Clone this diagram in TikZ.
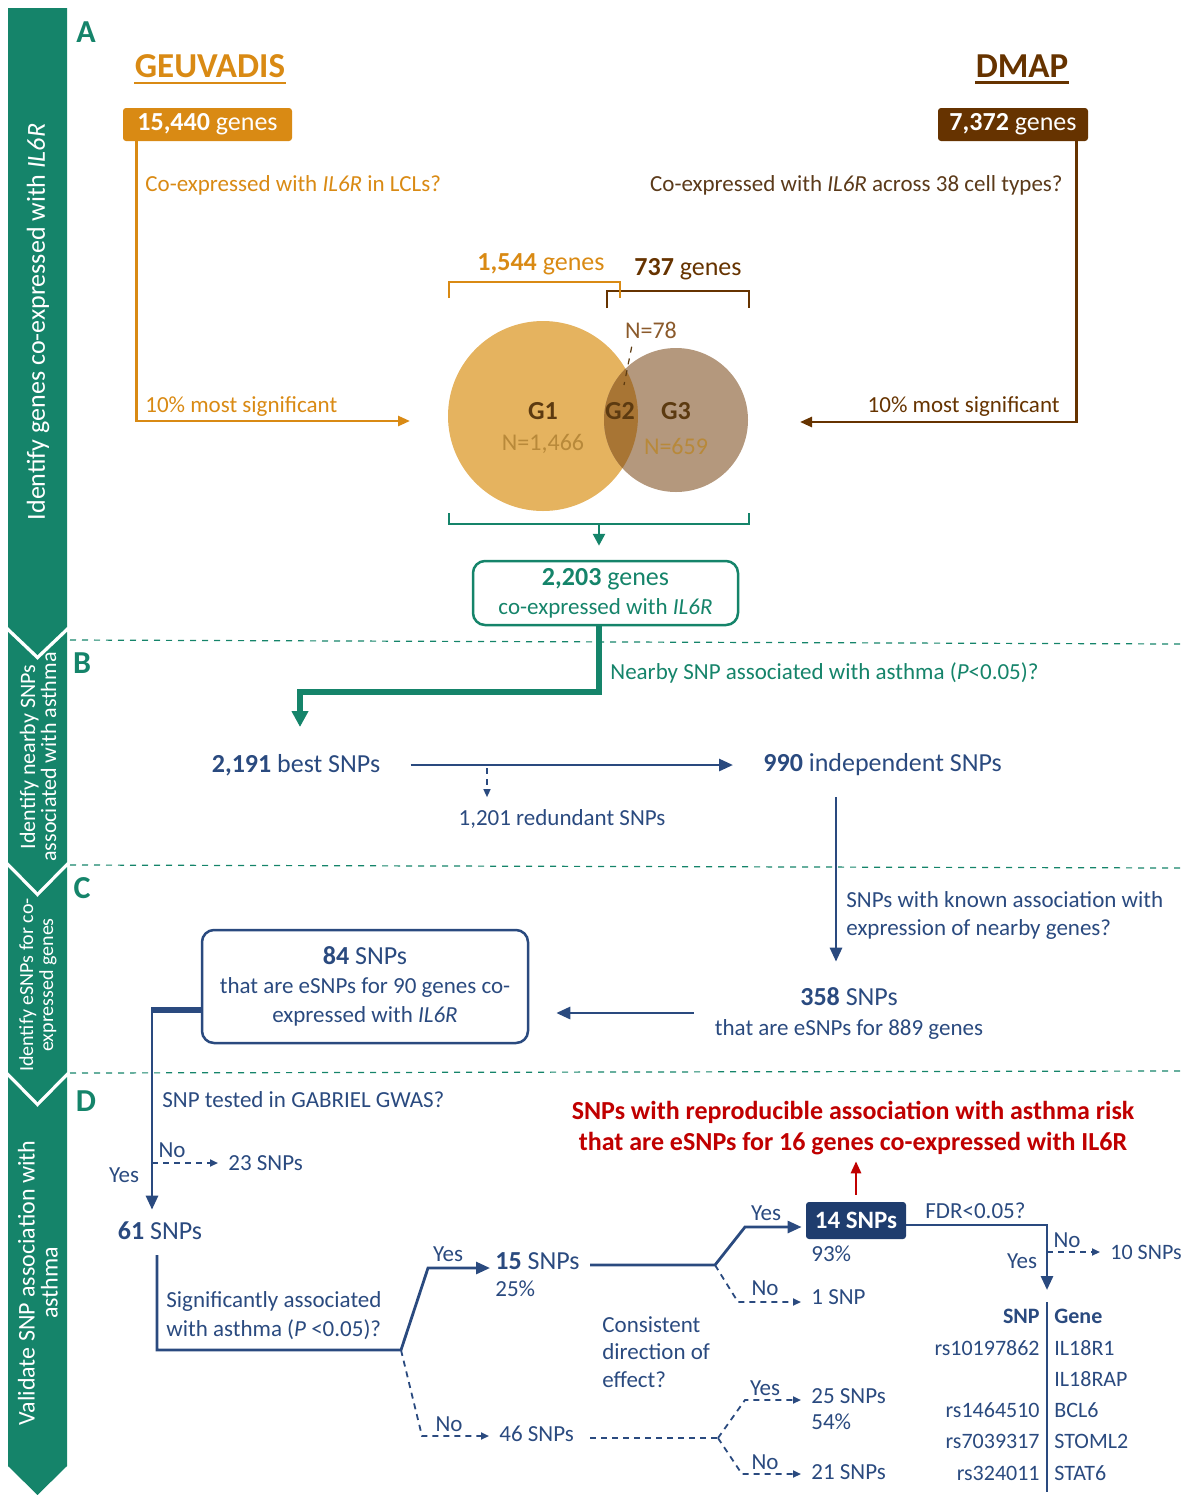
\documentclass[tikz,border=0pt]{standalone}
\usepackage{fontspec}
\setmainfont{Carlito}
\usetikzlibrary{arrows.meta,positioning}

\definecolor{barteal}{HTML}{15846A}
\definecolor{geuorange}{HTML}{D98A14}
\definecolor{dmapbrown}{HTML}{663300}
\definecolor{dmaptext}{HTML}{5B3A1A}
\definecolor{snpblue}{HTML}{2A4A7F}
\definecolor{boxblue}{HTML}{1F3D6E}
\definecolor{hitred}{HTML}{C00000}
\definecolor{gonecol}{HTML}{E5B35F}
\definecolor{gthreecol}{HTML}{B4987D}
\definecolor{gtwocol}{HTML}{A87534}
\definecolor{vennlab}{HTML}{5C3A10}
\definecolor{vennN}{HTML}{B8893A}
\definecolor{vennmid}{HTML}{8B5A2B}

\begin{document}
\begin{tikzpicture}[
  x=0.5pt, y=-0.5pt,
  every node/.style={inner sep=0pt},
  body/.style={font=\fontsize{11.5}{14.5}\selectfont},
  head/.style={font=\fontsize{13}{15}\selectfont},
  tab/.style={font=\fontsize{11}{13}\selectfont, text=snpblue, text height=8pt, text depth=2pt},
  panel/.style={font=\fontsize{16}{18}\selectfont\bfseries, text=barteal},
  bartext/.style={rotate=90, text=white, align=center},
  title/.style={font=\fontsize{17.5}{20}\selectfont\bfseries},
  genebox/.style={rounded corners=1.5pt, minimum height=16.5pt, text=white,
    font=\fontsize{13}{15}\selectfont},
  flowbox/.style={draw, rounded corners=6pt, line width=1.25pt, align=center},
  sep/.style={barteal, dashed, line width=0.6pt},
  orngline/.style={geuorange, line width=1.3pt, -{Triangle[length=6pt,width=5pt]}},
  brwnline/.style={dmapbrown, line width=1.3pt, -{Triangle[length=6pt,width=5pt]}},
  snpline/.style={snpblue, line width=1.4pt},
  snparrow/.style={snpline, -{Triangle[length=7pt,width=6pt]}},
  dashline/.style={snpblue, line width=0.9pt, dash pattern=on 3pt off 2.5pt},
  dasharrow/.style={dashline, -{Triangle[length=4pt,width=3.5pt]}},
  yn/.style={body, text=snpblue},
  venntxt/.style={font=\fontsize{12}{14}\selectfont},
  vennG/.style={font=\fontsize{13}{15}\selectfont\bfseries, text=vennlab},
]
\useasboundingbox (0,0) rectangle (1184,1495);

% ---- Left bar ----
\fill[barteal] (8,8) -- (67,8) -- (67,627) -- (37.5,655) -- (8,627) -- cycle;
\fill[barteal] (8,632) -- (37.5,660) -- (67,632) -- (67,862) -- (37.5,892) -- (8,862) -- cycle;
\fill[barteal] (8,867) -- (37.5,897) -- (67,867) -- (67,1072) -- (37.5,1102) -- (8,1072) -- cycle;
\fill[barteal] (8,1077) -- (37.5,1107) -- (67,1077) -- (67,1466) -- (37.5,1495) -- (8,1466) -- cycle;

\node[bartext, font=\fontsize{13}{15}\selectfont] (barA) at (38,322) {Identify genes co-expressed with \textit{IL6R}};
\node[bartext, font=\fontsize{11}{10.5}\selectfont] (barB) at (38,757) {Identify nearby SNPs\\associated with asthma};
\node[bartext, font=\fontsize{10}{10}\selectfont] (barC) at (38,985) {Identify eSNPs for co-\\expressed genes};
\node[bartext, font=\fontsize{12}{11.5}\selectfont] (barD) at (38,1283) {Validate SNP association with\\asthma};

% ---- Separators ----
\draw[sep] (70,640) -- (1180,644);
\draw[sep] (70,865) -- (1180,868);
\draw[sep] (70,1073) -- (1180,1071);

\node[panel] (labA) at (86,32) {A};
\node[panel] (labB) at (82,663) {B};
\node[panel] (labC) at (82,888) {C};
\node[panel] (labD) at (86,1101) {D};

% ---- A: sources ----
\node[title, text=geuorange] (geuv) at (210,66) {GEUVADIS};
\draw[geuorange, line width=1.4pt] ([yshift=-2.5pt]geuv.south west) -- ([yshift=-2.5pt]geuv.south east);
\node[title, text=dmapbrown] (dmap) at (1022,66) {DMAP};
\draw[dmapbrown, line width=1.4pt] ([yshift=-2.5pt]dmap.south west) -- ([yshift=-2.5pt]dmap.south east);

\node[genebox, fill=geuorange, minimum width=84.5pt] (geubox) at (207.5,124.5) {\textbf{15,440} genes};
\node[genebox, fill=dmapbrown, minimum width=75pt] (dmapbox) at (1013,124.5) {\textbf{7,372} genes};

\node[body, text=geuorange, anchor=west] (geuq) at (145,185) {Co-expressed with \textit{IL6R} in LCLs?};
\node[body, text=dmaptext, anchor=east] (dmapq) at (1063,185) {Co-expressed with \textit{IL6R} across 38 cell types?};
\node[body, text=geuorange, anchor=west] (geutop) at (145,407) {10\% most significant};
\node[body, text=dmapbrown, anchor=east] (dmaptop) at (1060,407) {10\% most significant};

\coordinate (geuend) at (410,421);
\coordinate (dmapend) at (800,422);
\draw[orngline] ([xshift=7pt]geubox.south west) |- (geuend);
\draw[brwnline] ([xshift=-6pt]dmapbox.south east) |- (dmapend);

% ---- A: Venn ----
\fill[gonecol] (543,416) circle [radius=95];
\fill[gthreecol] (676,420) circle [radius=72];
\begin{scope}
  \clip (543,416) circle [radius=95];
  \fill[gtwocol] (676,420) circle [radius=72];
\end{scope}

\node[vennG] (g1) at (543,411) {G1};
\node[vennG] (g2) at (620,411) {G2};
\node[vennG] (g3) at (676,411) {G3};
\node[venntxt, text=vennN] (n1) at (543,444) {N=1,466};
\node[venntxt, text=vennN] (n3) at (676,446) {N=659};
\node[venntxt, text=vennmid] (n2) at (651,330) {N=78};
\coordinate (g2pt) at (624,385);
\draw[vennlab, dashed, line width=0.6pt] ([xshift=3.5pt,yshift=-4pt]n2.south west) -- (g2pt);

% brackets
\draw[dmapbrown, line width=1.3pt] (607,308) -- (607,291) -- (749,291) -- (749,308);
\draw[geuorange, line width=1.3pt] (449,298) -- (449,282) -- (620,282) -- (620,298);
\node[head, text=geuorange] (n1544) at (541,264) {\textbf{1,544} genes};
\node[head, text=dmapbrown] (n737) at (688,269) {\textbf{737} genes};

\draw[barteal, line width=1.3pt] (449,513) -- (449,524) -- (749,524) -- (749,513);
\coordinate (brk) at (599,524);
\node[flowbox, body, draw=barteal, text=barteal, minimum width=132.5pt, minimum height=32pt]
  (allbox) at (605.5,593) {{\fontsize{13}{15}\selectfont\textbf{2,203} genes}\\co-expressed with \textit{IL6R}};
\draw[barteal, line width=1.3pt, -{Triangle[length=6pt,width=6pt]}, shorten >=7pt] (brk) -- (brk |- allbox.north);

% ---- B ----
\coordinate (tbend) at (599,692);
\coordinate (bestin) at (300,727);
\draw[barteal, line width=2.6pt, -{Triangle[length=8pt,width=8pt]}] (tbend |- allbox.south) -- (tbend) -| (bestin);
\node[body, text=barteal, anchor=west] (nearq) at (610,673) {Nearby SNP associated with asthma (\textit{P}<0.05)?};

\node[head, text=snpblue] (best) at (296,765) {\textbf{2,191} best SNPs};
\node[head, text=snpblue, anchor=west] (indep) at (763,765) {\textbf{990} independent SNPs};
\draw[snparrow, shorten <=15pt, shorten >=15pt] (best) -- (indep);

\coordinate (redsplit) at (487,768);
\node[body, text=snpblue] (redund) at (562,819) {1,201 redundant SNPs};
\draw[dasharrow, line width=0.7pt, shorten >=6pt] (redsplit) -- (redsplit |- redund.north);

\coordinate (indepdown) at (836,797);
\node[body, text=snpblue, anchor=west, align=left, font=\fontsize{11.5}{14}\selectfont] (knownq) at (846,915) {SNPs with known association with\\expression of nearby genes?};
\node[body, text=snpblue, align=center, font=\fontsize{11.5}{15}\selectfont] (e358) at (849,1013) {{\fontsize{13}{15}\selectfont\textbf{358} SNPs}\\that are eSNPs for 889 genes};
\draw[snparrow, shorten >=12.5pt] (indepdown) -- (indepdown |- e358.north);

% ---- C ----
\node[flowbox, body, draw=snpblue, text=snpblue, minimum width=163pt, minimum height=56.5pt]
  (e84) at (365,986.5) {{\fontsize{13}{15}\selectfont\textbf{84} SNPs}\\that are eSNPs for 90 genes co-\\expressed with \textit{IL6R}};
\draw[snparrow, shorten <=10.5pt, shorten >=13.5pt] (e358.west) -- (e358.west -| e84.east);

\coordinate (c61) at (152,1010);
\draw[snpblue, line width=2.6pt] (e84.west |- c61) -- ([xshift=-0.7pt]c61);
\node[head, text=snpblue] (s61) at (160,1231) {\textbf{61} SNPs};
\draw[snparrow, shorten >=6pt] (c61) -- (c61 |- s61.north);

% ---- D ----
\node[body, text=snpblue, anchor=west] (gabq) at (162,1100) {SNP tested in GABRIEL GWAS?};
\coordinate (no23) at (152,1163);
\node[body, text=snpblue, anchor=west] (s23) at (228,1163) {23 SNPs};
\draw[dasharrow, shorten >=5pt] (no23) -- (s23);
\node[yn] (no1) at (172,1150) {No};
\node[yn] (yes1) at (124,1175) {Yes};

% significance split
\coordinate (sigtop) at (157,1255);
\coordinate (sigfork) at (401,1350);
\coordinate (sigyes) at (428,1268);
\coordinate (signo) at (422,1436);
\node[head, text=snpblue, anchor=west] (s15) at (495,1261) {\textbf{15} SNPs};
\node[body, text=snpblue, anchor=west] (p25) at (495,1289) {25\%};
\node[body, text=snpblue, anchor=west] (s46) at (499,1434) {46 SNPs};
\node[body, text=snpblue, anchor=west, align=left] (sigq) at (166,1316) {Significantly associated\\with asthma (\textit{P} <0.05)?};
\draw[snparrow, shorten >=2.5pt] (sigtop) |- (sigfork) -- (sigyes) -- (sigyes -| s15.west);
\draw[dasharrow, shorten >=5pt] (sigfork) -- (signo) -- (signo -| s46.west);
\node[yn] (yes2) at (448,1254) {Yes};
\node[yn] (no2) at (449,1424) {No};

% direction split, significant branch
\node[genebox, fill=boxblue, minimum width=50pt, minimum height=18.5pt,
  font=\fontsize{12.5}{15}\selectfont\bfseries] (s14) at (856,1220.5) {14 SNPs};
\node[body, text=snpblue, anchor=west] (p93) at (811,1254) {93\%};
\node[body, text=snpblue, anchor=west] (s1) at (811,1297) {1 SNP};
\coordinate (c15out) at (590,1265);
\coordinate (cfork) at (715,1265);
\coordinate (cyes) at (745,1227);
\coordinate (cno) at (738,1302);
\draw[snparrow, shorten >=2pt] (c15out) -- (cfork) -- (cyes) -- (cyes -| s14.west);
\draw[dasharrow, shorten >=5pt] (cfork) -- (cno) -- (cno -| s1.west);
\node[yn] (yes3) at (766,1213) {Yes};
\node[yn] (no3) at (765,1288) {No};

\node[body, text=snpblue, anchor=west, align=left, font=\fontsize{11.5}{13.75}\selectfont] (consq) at (602,1352) {Consistent\\direction of\\effect?};

% direction split, non-significant branch
\node[body, text=snpblue, anchor=west] (s25) at (811,1396) {25 SNPs};
\node[body, text=snpblue, anchor=west] (p54) at (811,1422) {54\%};
\node[body, text=snpblue, anchor=west] (s21) at (811,1472) {21 SNPs};
\coordinate (c46out) at (590,1438);
\coordinate (c46fork) at (718,1438);
\coordinate (c46yes) at (745,1400);
\coordinate (c46no) at (742,1474);
\draw[dashline] (c46out) -- (c46fork);
\draw[dasharrow, shorten >=5pt] (c46fork) -- (c46yes) -- (c46yes -| s25.west);
\draw[dasharrow, shorten >=5pt] (c46fork) -- (c46no) -- (c46no -| s21.west);
\node[yn] (yes5) at (765,1388) {Yes};
\node[yn] (no5) at (765,1462) {No};

% result
\node[font=\fontsize{13}{15.5}\selectfont\bfseries, text=hitred, align=center] (hits) at (853,1128)
  {SNPs with reproducible association with asthma risk\\that are eSNPs for 16 genes co-expressed with IL6R};
\draw[hitred, line width=1.3pt, -{Triangle[length=6pt,width=5pt]}, shorten <=3.5pt, shorten >=3pt]
  (s14.north) -- (s14.north |- hits.south);

% FDR
\coordinate (fdrbend) at (1047,1225);
\coordinate (tabtop) at (1047,1290);
\coordinate (fdrno) at (1047,1252);
\node[body, text=snpblue, anchor=west] (fdrq) at (925,1211) {FDR<0.05?};
\node[body, text=snpblue, anchor=west, font=\fontsize{11}{13}\selectfont] (s10) at (1110,1252) {10 SNPs};
\draw[snparrow] (s14.east |- fdrbend) -- (fdrbend) -- (tabtop);
\draw[dasharrow, shorten >=5pt] (fdrno) -- (s10);
\node[yn] (yes4) at (1022,1261) {Yes};
\node[yn] (no4) at (1067,1240) {No};

% ---- Table ----
\draw[snpblue, line width=0.9pt] (1047,1302) -- (1047,1492);
\node[tab, anchor=east] (snphead) at (1040,1317) {\textbf{SNP}};
\node[tab, anchor=west] (genehead) at (1054,1317) {\textbf{Gene}};
\foreach \i/\snp/\gene in {0/rs10197862/IL18R1, 1//IL18RAP, 2/rs1464510/BCL6,
                           3/rs7039317/STOML2, 4/rs324011/STAT6} {
  \node[tab, anchor=east] (snp\i) at (1040,{1349+31.25*\i}) {\snp};
  \node[tab, anchor=west] (gene\i) at (1054,{1349+31.25*\i}) {\gene};
}

\end{tikzpicture}
\end{document}
